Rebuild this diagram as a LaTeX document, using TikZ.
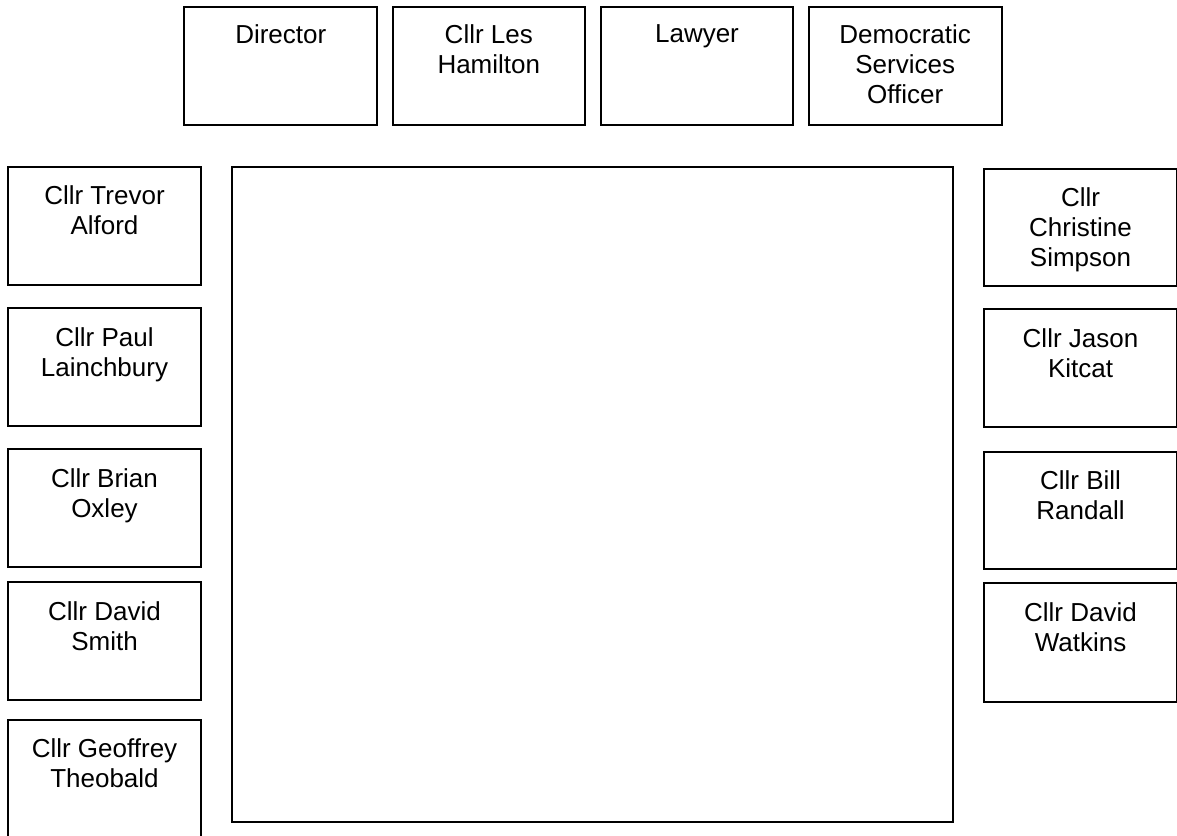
\documentclass[tikz,border=0pt]{standalone}
\usepackage{fontspec}
\setmainfont{Liberation Sans}

\begin{document}
\begin{tikzpicture}[x=0.5pt, y=-0.5pt,
        seat/.style={line width=1pt},
        who/.style={anchor=north, inner sep=0pt, align=center, font=\fontsize{13}{15}\selectfont}]
        \useasboundingbox (0,0) rectangle (1177,835);
        % top row
        \draw[seat](184.3,7.3) rectangle (377.3,125.3);
        \node[who] (director) at (280.8,24.5) {Director};
        \draw[seat](392.7,7.3) rectangle (585,125.3);
        \node[who] (hamilton) at (488.8,24.5) {Cllr Les\\Hamilton};
        \draw[seat](600.7,7.3) rectangle (793.3,125.3);
        \node[who] (lawyer) at (697,24.5) {Lawyer};
        \draw[seat](808.7,7.3) rectangle (1001.7,125.3);
        \node[who] (dso) at (905.2,24.5) {Democratic\\Services\\Officer};
        % table
        \draw[seat](232.3,166.7) rectangle (952.7,822.3);
        % left side
        \draw[seat](8.3,166.7) rectangle (200.7,285);
        \node[who] (alford) at (104.5,185.5) {Cllr Trevor\\Alford};
        \draw[seat](8.3,308.3) rectangle (200.7,426);
        \node[who] (lainchbury) at (104.5,327) {Cllr Paul\\Lainchbury};
        \draw[seat](8.3,449.3) rectangle (200.7,567);
        \node[who] (oxley) at (104.5,468) {Cllr Brian\\Oxley};
        \draw[seat](8.3,582.3) rectangle (200.7,700);
        \node[who] (smith) at (104.5,601) {Cllr David\\Smith};
        \draw[seat](8.3,720) rectangle (200.7,850);
        \node[who] (theobald) at (104.5,738.7) {Cllr Geoffrey\\Theobald};
        % right side
        \draw[seat](984.3,169) rectangle (1176.7,286);
        \node[who] (simpson) at (1080.5,187.7) {Cllr\\Christine\\Simpson};
        \draw[seat](984.3,309.3) rectangle (1176.7,426.7);
        \node[who] (kitcat) at (1080.5,328) {Cllr Jason\\Kitcat};
        \draw[seat](984.3,452) rectangle (1176.7,568.7);
        \node[who] (randall) at (1080.5,470.7) {Cllr Bill\\Randall};
        \draw[seat](984.3,583.3) rectangle (1176.7,701.7);
        \node[who] (watkins) at (1080.5,602) {Cllr David\\Watkins};
    \end{tikzpicture}
\end{document}
